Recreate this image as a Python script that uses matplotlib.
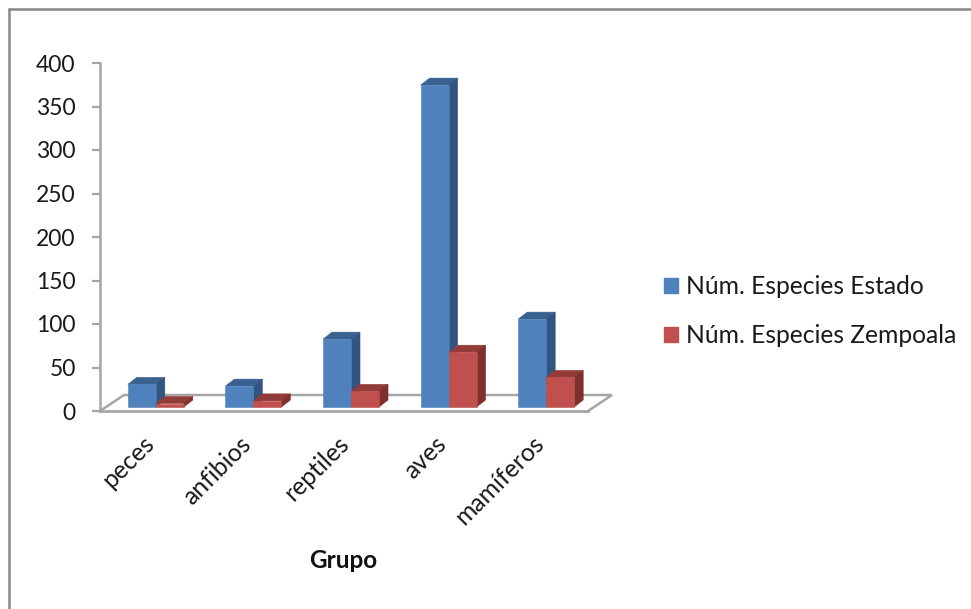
import matplotlib
matplotlib.use("Agg")
import matplotlib.pyplot as plt
from matplotlib.lines import Line2D
from matplotlib.patches import Patch
from matplotlib.transforms import ScaledTranslation

grupos = ["peces", "anfibios", "reptiles", "aves", "mamíferos"]
estado = [26, 24, 78, 370, 101]
zempoala = [4, 7, 18, 63, 34]
y_ticks = [0, 50, 100, 150, 200, 250, 300, 350, 400]

W, H = 971, 609
plt.rcParams["font.family"] = ["Lato", "DejaVu Sans"]

fig = plt.figure(figsize=(W / 100, H / 100), dpi=100)
ax = fig.add_axes([100 / W, 1 - 411 / H, 488 / W, 348 / H])
ax.set_xlim(-0.5, 4.5)
ax.set_ylim(0, 400)

# pixel sizes turned into data units
ux = 5 / 488
uy = 400 / 348
bar_w = 28 * ux
base = 4 * uy
dx, dy = 9 * ux, 7 * uy


def bar3d(x, val, front, top, side):
    y1 = base + val
    ax.fill([x, x + dx, x + bar_w + dx, x + bar_w], [y1, y1 + dy, y1 + dy, y1],
            facecolor=top, edgecolor=top, linewidth=0.4, zorder=3)
    ax.fill([x + bar_w, x + bar_w + dx, x + bar_w + dx, x + bar_w],
            [base, base + dy, y1 + dy, y1], facecolor=side, edgecolor=side, linewidth=0.4, zorder=3)
    ax.bar(x, val, bar_w, bottom=base, align="edge", color=front, edgecolor=front,
           linewidth=0.4, zorder=3)


for i in range(len(grupos)):
    bar3d(i - bar_w + 7 * ux, estado[i], "#4f81bd", "#3a6291", "#325480")
    bar3d(i + 7 * ux, zempoala[i], "#c0504d", "#933b39", "#7d302e")

# floor of the 3d box
gris = "#a6a6a6"
fx, fy = 24 * ux, 16 * uy
ax.plot([-0.5, -0.5 + fx, 4.5 + fx, 4.5], [0, fy, fy, 0], color=gris, lw=1.8,
        clip_on=False, zorder=1, solid_joinstyle="miter")
ax.plot([-0.5, 4.5], [0, 0], color=gris, lw=2.0, clip_on=False, zorder=2)

for s in ["top", "right", "bottom"]:
    ax.spines[s].set_visible(False)
ax.spines["left"].set_color(gris)
ax.spines["left"].set_linewidth(1.8)

ax.set_yticks(y_ticks)
ax.tick_params(axis="y", length=6, width=1.6, color=gris, labelsize=16.5,
               labelcolor="#1a1a1a", pad=11.5)
ax.set_xticks(range(len(grupos)))
ax.set_xticklabels(grupos, rotation=45, ha="right", rotation_mode="anchor", fontsize=17.8, color="#1a1a1a")
ax.tick_params(axis="x", length=0, pad=15)
shift = ScaledTranslation(-7 / 100, 0, fig.dpi_scale_trans)
for lb in ax.get_xticklabels():
    lb.set_transform(lb.get_transform() + shift)

fig.text(343 / W, 1 - 561 / H, "Grupo", ha="center", va="center", fontsize=17.5, fontweight="bold",
         color="#111111")

handles = [Patch(color="#4f81bd"), Patch(color="#c0504d")]
fig.legend(handles, ["Núm. Especies Estado", "Núm. Especies Zempoala"],
           loc="center left", bbox_to_anchor=(642 / W, 1 - 311 / H), frameon=False,
           fontsize=17.7, labelspacing=1.07, handlelength=0.57, handleheight=0.57,
           handletextpad=0.33, labelcolor="#1a1a1a")

# outer chart border
borde = "#868686"
fig.add_artist(Line2D([9 / W, 9 / W, 1], [0, 1 - 9 / H, 1 - 9 / H], color=borde, lw=1.8,
                      solid_joinstyle="miter"))

fig.savefig("out.png", dpi=100)
